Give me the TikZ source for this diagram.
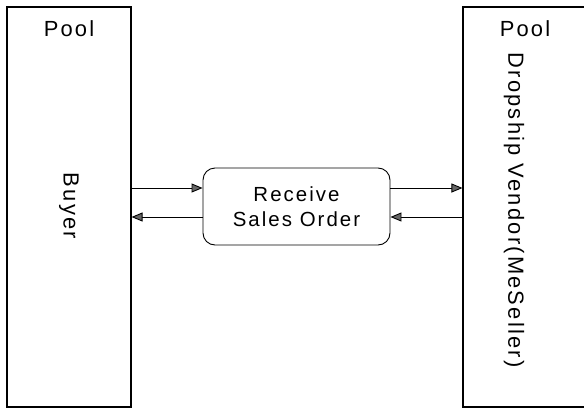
\documentclass[tikz,border=0pt]{standalone}
\usepackage{fontspec}
\setmainfont{Liberation Sans}[LetterSpace=10]
\usepackage{tikz}
\usetikzlibrary{calc}
\usetikzlibrary{positioning}
\usetikzlibrary{arrows.meta}
\tikzset{>={Triangle[length=11bp,width=9bp,fill=black!60]}}

\begin{document}
\begin{tikzpicture}[x=1bp, y=1bp,
	pool/.style = {draw=black, line width=1.1bp, inner sep=0pt,
		minimum width=124bp, minimum height=400bp},
	poolname/.style = {inner sep=0pt, font=\fontsize{22}{22}\selectfont},
	lanename/.style = {inner sep=0pt, rotate=-90, font=\fontsize{22}{22}\selectfont},
	task/.style = {draw=black, line width=0.9bp, rounded corners=12bp,
		minimum width=187bp, minimum height=77bp, align=center,
		font=\fontsize{20.5}{25}\selectfont},
	msg/.style = {->, line width=0.9bp, black}]
	\useasboundingbox (0,0) rectangle (584,410);

	% Pools
	\node[pool] (buyer) at (69,203) {};
	\node[pool] (vendor) at (525,203) {};
	\node[poolname, below=14bp of buyer.north] (buyerpool) {Pool};
	\node[poolname, below=14bp of vendor.north] (vendorpool) {Pool};
	\node[lanename] (buyername) at (69,204) {Buyer};
	\node[lanename] (vendorname) at (514,200) {Dropship Vendor(MeSeller)};

	% Task
	\node[task] (recv) at (296.5,203.5) {Receive\\Sales Order};

	%% Messages
	\coordinate (rin) at ([yshift=18.5bp]recv.west);
	\coordinate (rback) at ([yshift=-10.5bp]recv.west);
	\coordinate (rout) at ([yshift=18.5bp]recv.east);
	\coordinate (rret) at ([yshift=-10.5bp]recv.east);
	\draw[msg] (buyer.east |- rin) -- (rin);
	\draw[msg] (rback) -- (buyer.east |- rback);
	\draw[msg] (rout) -- (vendor.west |- rout);
	\draw[msg] (vendor.west |- rret) -- (rret);

\end{tikzpicture}
\end{document}
